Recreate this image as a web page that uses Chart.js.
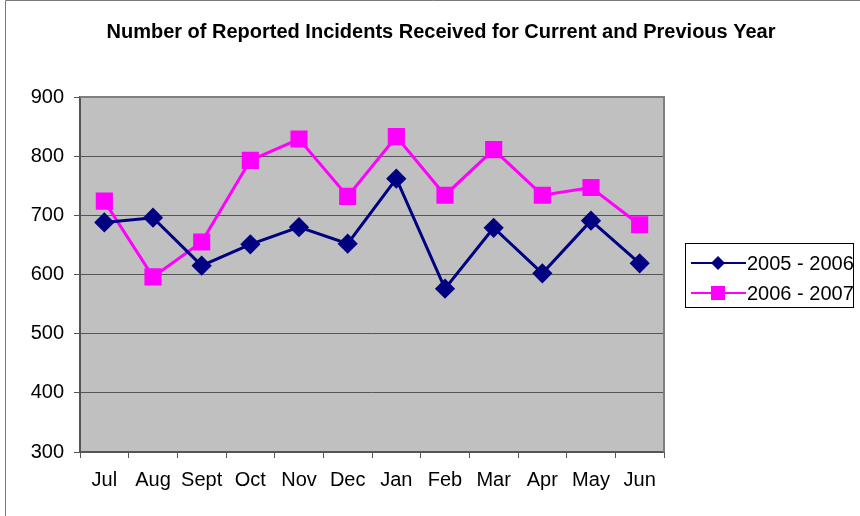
<!DOCTYPE html>
<html>
<head>
<meta charset="utf-8">
<script src="https://cdn.jsdelivr.net/npm/chart.js@4/dist/chart.umd.min.js"></script>
<style>
  html, body { margin: 0; padding: 0; background: #fff; }
  #wrap { width: 860px; height: 516px; }
</style>
</head>
<body>
<div id="wrap"><canvas id="myChart" width="860" height="516"></canvas></div>
<script>
// Months of the reporting year (Jul - Jun)
const months = ['Jul', 'Aug', 'Sept', 'Oct', 'Nov', 'Dec', 'Jan', 'Feb', 'Mar', 'Apr', 'May', 'Jun'];

// Incidents received
const incidents0506 = [688, 696, 615, 651, 680, 652, 762, 576, 679, 602, 691, 619];
const incidents0607 = [724, 596, 655, 793, 829, 732, 833, 734, 811, 734, 747, 684];

const seriesLabels = ['2005 - 2006', '2006 - 2007'];
const yTicks = [300, 400, 500, 600, 700, 800, 900];
const chartTitle = 'Number of Reported Incidents Received for Current and Previous Year';

const fontName = '"Liberation Sans", Arial, sans-serif';

// grey plot background, frame round the picture and the title
const backgroundPlugin = {
    id: 'plotBackground',
    beforeDraw(chart) {
        const ctx = chart.ctx;
        const a = chart.chartArea;
        ctx.save();
        ctx.fillStyle = '#fff';
        ctx.fillRect(0, 0, chart.width, chart.height);
        ctx.strokeStyle = '#7a7a7a';
        ctx.lineWidth = 1;
        ctx.beginPath();
        ctx.moveTo(5.5, chart.height);
        ctx.lineTo(5.5, 0.5);
        ctx.lineTo(chart.width, 0.5);
        ctx.stroke();
        ctx.fillStyle = '#c0c0c0';
        ctx.fillRect(a.left, a.top, a.right - a.left, a.bottom - a.top);

        ctx.fillStyle = '#000';
        ctx.font = 'bold 20px ' + fontName;
        ctx.textAlign = 'center';
        ctx.textBaseline = 'middle';
        ctx.fillText(chartTitle, 441, 32);
        ctx.restore();
    },
    beforeDatasetsDraw(chart) {
        // top and right border of the plot area
        const ctx = chart.ctx;
        const a = chart.chartArea;
        ctx.save();
        ctx.strokeStyle = '#7f7f7f';
        ctx.lineWidth = 2;
        ctx.beginPath();
        ctx.moveTo(a.left, a.top);
        ctx.lineTo(a.right, a.top);
        ctx.lineTo(a.right, a.bottom);
        ctx.stroke();
        ctx.restore();
    }
};

// legend box drawn by hand so it can sit where the original one is
const legendPlugin = {
    id: 'boxLegend',
    afterDraw(chart) {
        const ctx = chart.ctx;
        ctx.save();
        ctx.fillStyle = '#fff';
        ctx.fillRect(685, 243, 168, 64);
        ctx.strokeStyle = '#000';
        ctx.lineWidth = 1;
        ctx.strokeRect(685.5, 243.5, 168, 64);
        chart.data.datasets.forEach((ds, i) => {
            const y = 263 + i * 30;
            ctx.strokeStyle = ds.borderColor;
            ctx.lineWidth = 2;
            ctx.beginPath();
            ctx.moveTo(691, y);
            ctx.lineTo(746, y);
            ctx.stroke();
            ctx.fillStyle = ds.pointBackgroundColor;
            ctx.beginPath();
            if (ds.pointStyle === 'rectRot') {
                ctx.moveTo(718, y - 7);
                ctx.lineTo(725, y);
                ctx.lineTo(718, y + 7);
                ctx.lineTo(711, y);
            } else {
                ctx.rect(711, y - 7, 14, 14);
            }
            ctx.closePath();
            ctx.fill();
            ctx.fillStyle = '#000';
            ctx.font = '20px ' + fontName;
            ctx.textBaseline = 'middle';
            ctx.fillText(ds.label, 747, y + 1);
        });
        ctx.restore();
    }
};

const ctx = document.getElementById('myChart').getContext('2d');

const myChart = new Chart(ctx, {
    type: 'line',
    data: {
        labels: months,
        datasets: [{
            label: seriesLabels[0],
            data: incidents0506,
            borderColor: '#000080',
            backgroundColor: '#000080',
            pointBackgroundColor: '#000080',
            pointBorderColor: '#000080',
            pointStyle: 'rectRot',
            pointRadius: 8,
            borderWidth: 3,
            tension: 0,
            fill: false
        }, {
            label: seriesLabels[1],
            data: incidents0607,
            borderColor: '#ff00ff',
            backgroundColor: '#ff00ff',
            pointBackgroundColor: '#ff00ff',
            pointBorderColor: '#ff00ff',
            pointStyle: 'rect',
            pointRadius: 10,
            borderWidth: 3,
            tension: 0,
            fill: false
        }]
    },
    options: {
        responsive: false,
        animation: false,
        devicePixelRatio: 1,
        layout: { padding: { left: 0, right: 196, top: 97, bottom: 0 } },
        plugins: {
            legend: { display: false },
            tooltip: { enabled: false },
            title: { display: false }
        },
        scales: {
            x: {
                offset: true,
                afterFit(scale) { scale.height = 64; },
                grid: {
                    offset: true,
                    drawOnChartArea: false,
                    drawTicks: true,
                    tickLength: 6,
                    tickColor: '#555',
                    tickWidth: 1
                },
                border: { color: '#555', width: 2 },
                ticks: {
                    color: '#000',
                    padding: 10,
                    maxRotation: 0,
                    autoSkip: false,
                    font: { family: fontName, size: 20 }
                }
            },
            y: {
                min: yTicks[0],
                max: yTicks[yTicks.length - 1],
                afterFit(scale) { scale.width = 80; },
                afterBuildTicks(scale) { scale.ticks = yTicks.map(v => ({ value: v })); },
                grid: {
                    color: '#555',
                    lineWidth: 1,
                    tickLength: 6,
                    tickColor: '#555'
                },
                border: { color: '#555', width: 2 },
                ticks: {
                    color: '#000',
                    padding: 10,
                    font: { family: fontName, size: 20 }
                }
            }
        }
    },
    plugins: [backgroundPlugin, legendPlugin]
});
</script>
</body>
</html>
